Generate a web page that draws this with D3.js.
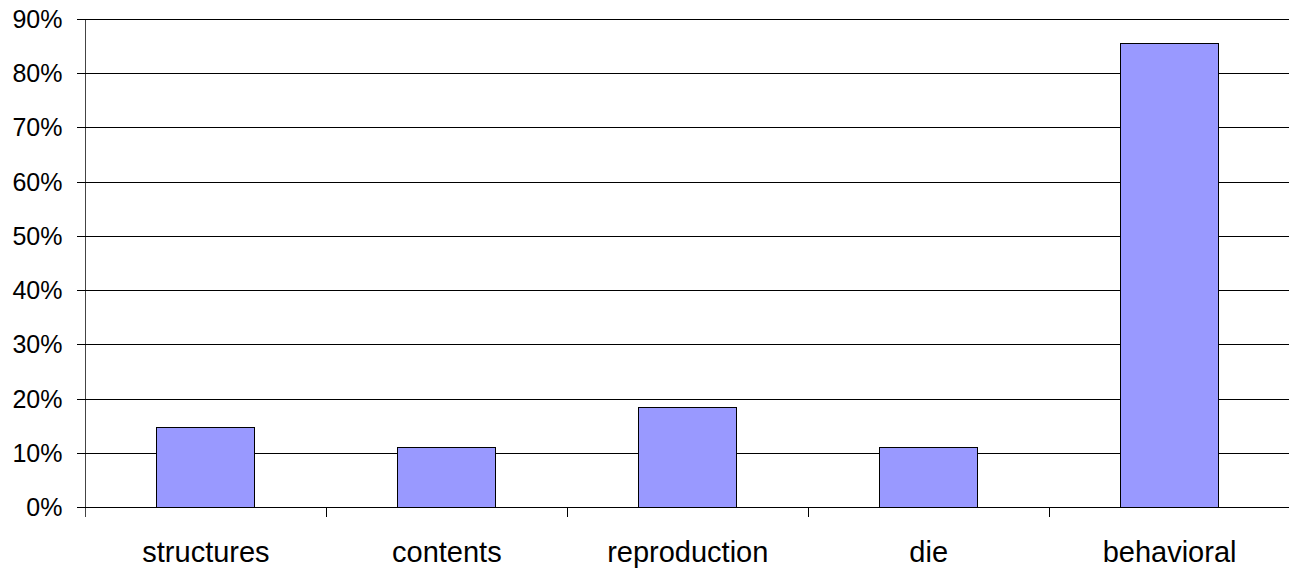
<!DOCTYPE html>
<html>
<head>
<meta charset="utf-8">
<script src="https://cdn.jsdelivr.net/npm/d3@7"></script>
<style>
  html, body { margin: 0; padding: 0; background: #fff; }
  svg { display: block; }
  text { font-family: "Liberation Sans", Arial, sans-serif; fill: #000; }
</style>
</head>
<body>
<svg id="chart" width="1289" height="573"></svg>
<script>
const categories = ["structures", "contents", "reproduction", "die", "behavioral"];
const values = [0.146, 0.109, 0.183, 0.109, 0.854];
const yTicks = [0, 0.1, 0.2, 0.3, 0.4, 0.5, 0.6, 0.7, 0.8, 0.9];

const plotLeft = 85.5, plotRight = 1290, plotTop = 19, plotBottom = 507;

const svg = d3.select("#chart");

const y = d3.scaleLinear().domain([0, 0.9]).range([plotBottom, plotTop]);
const pad = 0.593;
const x = d3.scaleBand().domain(categories).range([plotLeft, plotRight])
  .paddingInner(pad).paddingOuter(pad / 2);
const step = x.step();

// gridlines
const grid = svg.append("g").attr("transform", `translate(${plotLeft},0)`)
  .call(d3.axisLeft(y).tickValues(yTicks).tickSize(-(plotRight - plotLeft)).tickFormat(""));
grid.select(".domain").remove();
grid.selectAll("line").attr("stroke", "#000").attr("stroke-width", 1)
  .attr("shape-rendering", "crispEdges");

// bars
svg.append("g").selectAll("rect").data(categories).join("rect")
  .attr("x", d => x(d))
  .attr("y", (d, i) => y(values[i]))
  .attr("width", x.bandwidth())
  .attr("height", (d, i) => y(0) - y(values[i]))
  .attr("fill", "#9999ff")
  .attr("stroke", "#000")
  .attr("stroke-width", 1)
  .attr("shape-rendering", "crispEdges");

// y axis
const yAxis = svg.append("g").attr("transform", `translate(${plotLeft},0)`)
  .call(d3.axisLeft(y).tickValues(yTicks).tickFormat(d3.format(".0%"))
    .tickSize(9).tickPadding(14).tickSizeOuter(0));
yAxis.select(".domain").attr("stroke", "#444").attr("d", `M0,${plotTop}V${plotBottom + 10}`)
  .attr("shape-rendering", "crispEdges");
yAxis.selectAll(".tick line").attr("stroke", "#000").attr("shape-rendering", "crispEdges");
yAxis.selectAll(".tick text").style("font-size", "25px").attr("dy", "0.34em")
  .style("font-family", "'Liberation Sans', Arial, sans-serif");

// x axis baseline
svg.append("line").attr("x1", plotLeft).attr("x2", plotRight).attr("y1", y(0)).attr("y2", y(0))
  .attr("stroke", "#000").attr("shape-rendering", "crispEdges");

// x axis (labels at band centers)
const xAxis = svg.append("g").attr("transform", `translate(0,${plotBottom})`)
  .call(d3.axisBottom(x).tickSize(0).tickPadding(0));
xAxis.select(".domain").remove();
xAxis.selectAll(".tick text").style("font-size", "29px")
  .style("font-family", "'Liberation Sans', Arial, sans-serif")
  .attr("y", 55).attr("dy", 0);

// category boundary ticks
const boundaries = d3.range(1, categories.length).map(i => plotLeft + i * step);
svg.append("g").selectAll("line").data(boundaries).join("line")
  .attr("x1", d => d).attr("x2", d => d)
  .attr("y1", plotBottom).attr("y2", plotBottom + 10)
  .attr("stroke", "#000").attr("shape-rendering", "crispEdges");
</script>
</body>
</html>
